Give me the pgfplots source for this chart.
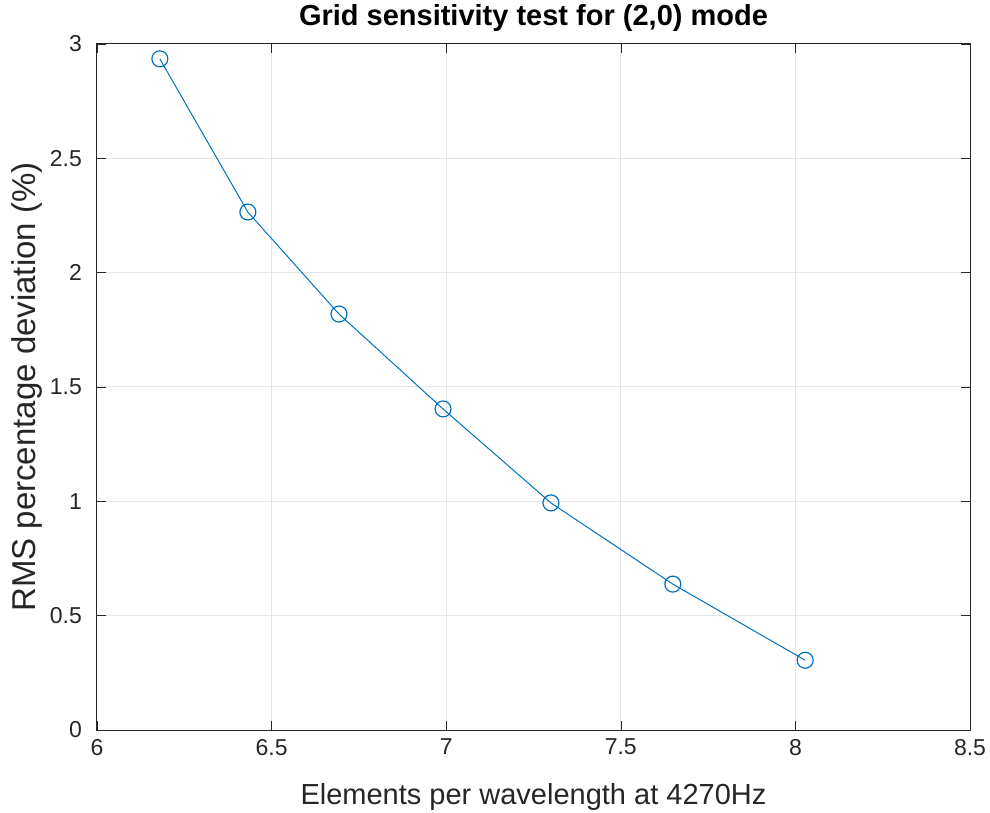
\documentclass[border=0pt]{standalone}
\usepackage{fontspec}
\setmainfont{Liberation Sans}
\usepackage{pgfplots}
\pgfplotsset{compat=1.18}
\definecolor{mblue}{RGB}{0,114,189}
\begin{document}
\begin{tikzpicture}
\begin{axis}[
  name=ax,
  scale only axis,
  width=436.5pt, height=343pt,
  xmin=6, xmax=8.5, ymin=0, ymax=3,
  xtick={6,6.5,...,8.5}, ytick={0,0.5,...,3},
  grid=major,
  major grid style={gray!20, line width=0.5pt},
  tick align=inside,
  tick pos=both,
  major tick length=4.5pt,
  axis line style={black!85, line width=0.5pt},
  tick style={black!85},
  /pgf/number format/assume math mode=true,
  ticklabel style={font=\fontsize{11.5}{13}\selectfont, text=black!85},
  yticklabel style={xshift=-4pt},
  xticklabel style={yshift=-1pt},
  xlabel={Elements per wavelength at 4270Hz},
  ylabel={RMS percentage deviation (\%)},
  every axis x label/.style={at={(axis description cs:0.5,0)}, anchor=center, yshift=-33.5pt, font=\fontsize{14.5}{16}\selectfont, text=black!85},
  every axis y label/.style={at={(axis description cs:0,0.5)}, anchor=center, rotate=90, yshift=35pt, font=\fontsize{16.5}{18}\selectfont, text=black!85},
  title={Grid sensitivity test for (2,0) mode},
  every axis title/.style={at={(axis description cs:0.5,1)}, anchor=center, yshift=13pt, font=\fontsize{14.5}{16}\selectfont\bfseries},
  clip=false,
]
\addplot[color=mblue, line width=0.5pt, mark=o, mark size=4pt, mark options={line width=0.6pt}]
coordinates {
 (6.18,2.935) (6.432,2.265) (6.693,1.819) (6.991,1.404) (7.300,0.993) (7.649,0.638) (8.028,0.305)
};
\end{axis}
\pgfresetboundingbox
\path[use as bounding box] ([shift={(-48.5pt,-41.5pt)}]ax.south west) rectangle ([shift={(10pt,22pt)}]ax.north east);
\end{tikzpicture}
\end{document}
